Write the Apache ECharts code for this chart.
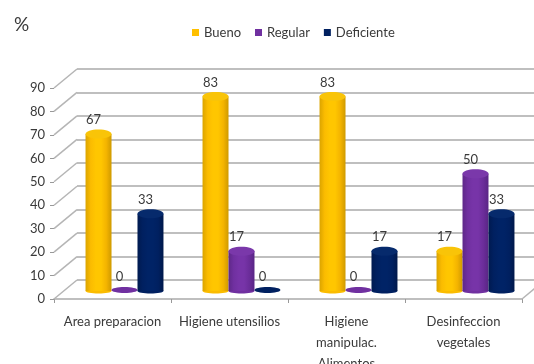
<!DOCTYPE html>
<html><head><meta charset="utf-8">
<style>html,body{margin:0;padding:0;background:#fff}#c{width:534px;height:364px;filter:blur(0.5px)}</style>
<script src="https://cdn.jsdelivr.net/npm/echarts@6/dist/echarts.min.js"></script>
</head><body><div id="c"></div>
<script>
const categories = ['Area preparacion', 'Higiene utensilios', 'Higiene\nmanipulac.\nAlimentos', 'Desinfeccion\nvegetales'];
const bueno = [67, 83, 83, 17];
const regular = [0, 17, 0, 50];
const deficiente = [33, 0, 17, 33];
const yTicks = [0, 10, 20, 30, 40, 50, 60, 70, 80, 90];
const FONT = 'Lato,"Noto Sans",sans-serif';
const TXT = '#3a3a3a';
const DEPTH = [23, -19];

function tone(stops) {
  return {type: 'linear', x: 0, y: 0, x2: 1, y2: 0,
    colorStops: stops.map((c, i) => ({offset: i / (stops.length - 1), color: c}))};
}
const palettes = [
  {base: '#FFC000', body: ['#dba400', '#fbbc00', '#ffc600', '#ffc600', '#f4b400', '#cf9a00'], cap: '#f9c408'},
  {base: '#7030A0', body: ['#5e2888', '#7030a0', '#7734a8', '#7734a8', '#6b2d9a', '#592585'], cap: '#7a38aa'},
  {base: '#002060', body: ['#001a50', '#002060', '#002366', '#002366', '#002060', '#00184a'], cap: '#062a6c'}
];

function cylinder(seriesIdx) {
  const p = palettes[seriesIdx];
  return function (params, api) {
    const cat = api.value(0), val = api.value(1);
    const base = api.coord([cat, 0]);
    const top = api.coord([cat, val]);
    const w = api.size([1, 0])[0] * 0.222;
    const cx = base[0] + (seriesIdx - 1) * w;
    const rx = w / 2;
    const kids = [];
    if (val === 0) {
      kids.push({type: 'ellipse', shape: {cx: cx, cy: base[1] - 1, rx: rx, ry: 3}, style: {fill: p.base}});
    } else {
      kids.push({type: 'ellipse', shape: {cx: cx, cy: base[1], rx: rx, ry: 2.5}, style: {fill: p.body[1]}});
      kids.push({type: 'rect', shape: {x: cx - rx, y: top[1], width: w, height: base[1] - top[1]}, style: {fill: tone(p.body)}});
      kids.push({type: 'ellipse', shape: {cx: cx, cy: top[1], rx: rx, ry: 4.5}, style: {fill: p.cap}});
    }
    kids.push({type: 'text', style: {text: String(val), x: cx - 5, y: top[1] - 14, align: 'center', verticalAlign: 'middle',
      fill: TXT, font: '13px ' + FONT}});
    return {type: 'group', children: kids};
  };
}

function walls(params, api) {
  const v = api.value(0);
  const cs = params.coordSys;
  const y = api.coord([0, v])[1];
  const kids = [{type: 'line', shape: {x1: cs.x, y1: y, x2: cs.x + DEPTH[0], y2: y + DEPTH[1]},
    style: {stroke: '#b5b5b5', lineWidth: 1.5}}];
  if (v === 0) {
    kids.push({type: 'line', shape: {x1: cs.x + cs.width, y1: y, x2: cs.x + cs.width + DEPTH[0], y2: y + DEPTH[1]},
      style: {stroke: '#b5b5b5', lineWidth: 1.5}});
  }
  return {type: 'group', children: kids};
}

const names = ['Bueno', 'Regular', 'Deficiente'];
const values = [bueno, regular, deficiente];

const option = {
  animation: false,
  backgroundColor: '#fff',
  title: {text: '%', left: 9, top: 10, textStyle: {fontFamily: FONT, fontSize: 19, fontWeight: 'normal', color: TXT}},
  legend: {data: names, left: 187, top: 21, itemWidth: 7, itemHeight: 7, itemGap: 14, icon: 'rect',
    textStyle: {fontFamily: FONT, fontSize: 13, color: TXT}},
  grid: [
    {left: 54, top: 88, width: 468, height: 211, outerBoundsMode: 'none'},   // front axes
    {left: 77, top: 69, width: 468, height: 211, outerBoundsMode: 'none'},   // back wall
    {left: 66, top: 80, width: 468, height: 211, outerBoundsMode: 'none'}    // bars
  ],
  xAxis: [
    {gridIndex: 0, type: 'category', data: categories,
      axisLine: {lineStyle: {color: '#aaaaaa', width: 1.5}}, axisTick: {show: true, length: 4, lineStyle: {color: '#999'}},
      axisLabel: {interval: 0, margin: 12, lineHeight: 21, fontFamily: FONT, fontSize: 13, color: TXT}},
    {gridIndex: 1, type: 'category', data: categories, show: false},
    {gridIndex: 2, type: 'category', data: categories, show: false}
  ],
  yAxis: [
    {gridIndex: 0, type: 'value', min: 0, max: 90, interval: 10, splitLine: {show: false},
      axisLine: {show: false}, axisTick: {show: true, length: 4, lineStyle: {color: '#999'}},
      axisLabel: {margin: 9, fontFamily: FONT, fontSize: 13, color: TXT}},
    {gridIndex: 1, type: 'value', min: 0, max: 90, interval: 10, axisLabel: {show: false}, axisLine: {show: false}, axisTick: {show: false},
      splitLine: {show: true, lineStyle: {color: '#aaaaaa', width: 1.5}}},
    {gridIndex: 2, type: 'value', min: 0, max: 90, interval: 10, show: false, splitLine: {show: false}}
  ],
  series: [
    {type: 'custom', name: 'walls', xAxisIndex: 0, yAxisIndex: 0, clip: false, silent: true,
      data: yTicks.map(v => [v]), encode: {y: 0}, renderItem: walls, z: 1},
    ...names.map((n, i) => ({
      type: 'custom', name: n, xAxisIndex: 2, yAxisIndex: 2, clip: false, z: 3 + i,
      itemStyle: {color: palettes[i].base},
      data: values[i].map((v, k) => [k, v]),
      encode: {x: 0, y: 1},
      renderItem: cylinder(i)
    }))
  ]
};
echarts.init(document.getElementById('c'), null, {renderer: 'canvas'}).setOption(option);
</script></body></html>
